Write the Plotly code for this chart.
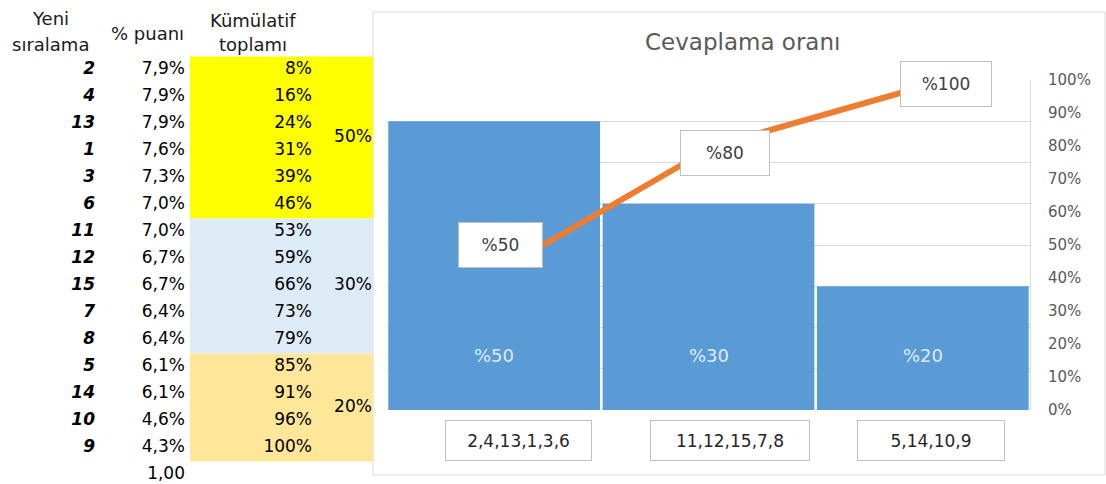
import plotly.graph_objects as go

# ---------------- data ----------------
yeni_siralama = [2, 4, 13, 1, 3, 6, 11, 12, 15, 7, 8, 5, 14, 10, 9]
puan_pct = [7.9, 7.9, 7.9, 7.6, 7.3, 7.0, 7.0, 6.7, 6.7, 6.4, 6.4, 6.1, 6.1, 4.6, 4.3]
kumulatif_pct = [8, 16, 24, 31, 39, 46, 53, 59, 66, 73, 79, 85, 91, 96, 100]
toplam_label = "1,00"
header_col1 = ["Yeni", "sıralama"]
header_col2 = "% puanı"
header_col3 = ["Kümülatif", "toplamı"]

group_sizes = [6, 5, 4]
group_shares = [50, 30, 20]

bar_values = [7, 5, 3]                 # primary (hidden) axis, 0..8
line_x = [0.243, 0.509, 0.869]         # line points on a hidden secondary x axis (0..1)
line_values = [0.50, 0.80, 1.00]       # secondary y axis
chart_title = "Cevaplama oranı"

# ---------------- styles ----------------
W, H = 1106, 484
FONT = "DejaVu Sans"
group_colors = ["#FFFF00", "#DDEBF7", "#FFE699"]
BAR_COLOR = "#5B9BD5"
LINE_COLOR = "#ED7D31"
GRID = "#D9D9D9"

def px_x(p):
    return p / W

def px_y(p):
    return 1 - p / H

# derived
categories = []
starts = []
s = 0
for n in group_sizes:
    starts.append(s)
    categories.append(",".join(str(v) for v in yeni_siralama[s:s + n]))
    s += n
group_centers = [st + (n - 1) / 2 for st, n in zip(starts, group_sizes)]
rows = list(range(len(yeni_siralama)))

fig = go.Figure()

# ---------------- table (left) ----------------
ROW0, ROWH = 70, 27  # pixel of row 0 and row height
tbl_y_range = [(H - ROW0) / ROWH, (0 - ROW0) / ROWH]

fig.add_trace(go.Bar(
    orientation="h", y=group_centers, x=[183] * len(group_sizes), base=190,
    width=group_sizes, marker=dict(color=group_colors, line=dict(width=0)),
    xaxis="x3", yaxis="y3", hoverinfo="skip", showlegend=False))

tfont = dict(family=FONT, size=17, color="#000")
fig.add_trace(go.Scatter(
    x=[95] * len(rows), y=rows, mode="text",
    text=[f"<b><i>{v}</i></b>" for v in yeni_siralama],
    textposition="middle left", textfont=tfont,
    xaxis="x3", yaxis="y3", showlegend=False, hoverinfo="skip"))
fig.add_trace(go.Scatter(
    x=[185] * (len(rows) + 1), y=rows + [len(rows)], mode="text",
    text=[f"{v:.1f}%".replace(".", ",") for v in puan_pct] + [toplam_label],
    textposition="middle left", textfont=tfont,
    xaxis="x3", yaxis="y3", showlegend=False, hoverinfo="skip"))
fig.add_trace(go.Scatter(
    x=[312] * len(rows), y=rows, mode="text",
    text=[f"{v}%" for v in kumulatif_pct],
    textposition="middle left", textfont=tfont,
    xaxis="x3", yaxis="y3", showlegend=False, hoverinfo="skip"))
fig.add_trace(go.Scatter(
    x=[353] * len(group_sizes), y=group_centers, mode="text",
    text=[f"{v}%" for v in group_shares],
    textposition="middle center", textfont=tfont,
    xaxis="x3", yaxis="y3", showlegend=False, hoverinfo="skip"))

annotations = []
hdr_font = dict(family=FONT, size=18, color="#1a1a1a")
for txt, yrow in zip(header_col1, [-1.92, -0.95]):
    annotations.append(dict(x=50, y=yrow, xref="x3", yref="y3", text=txt,
                            xanchor="center", yanchor="middle",
                            showarrow=False, font=hdr_font))
for txt, yrow in zip(header_col3, [-1.85, -0.95]):
    annotations.append(dict(x=253, y=yrow, xref="x3", yref="y3", text=txt,
                            xanchor="center", yanchor="middle",
                            showarrow=False, font=hdr_font))
annotations.append(dict(x=147, y=-1.37, xref="x3", yref="y3", text=header_col2,
                        xanchor="center", yanchor="middle",
                        showarrow=False, font=hdr_font))

# ---------------- chart (right) ----------------
fig.add_trace(go.Bar(
    x=categories, y=bar_values, width=0.988, marker=dict(color=BAR_COLOR, line=dict(width=0)),
    xaxis="x", yaxis="y", showlegend=False, hoverinfo="skip"))
fig.add_trace(go.Scatter(
    x=line_x, y=line_values, mode="lines",
    line=dict(color=LINE_COLOR, width=6), xaxis="x2", yaxis="y2",
    showlegend=False, hoverinfo="skip"))

# inside-bar labels
for c, sh in zip(categories, group_shares):
    annotations.append(dict(x=c, y=0, xref="x", yref="y", yshift=55, text=f"%{sh}",
                            xanchor="center", yanchor="middle",
                            showarrow=False, font=dict(family=FONT, size=18, color="#DDEBF7")))

# line data labels (boxes): first one to the left of its point, others around it
lbl_anchor = ["right", "center", "center"]
lbl_shift = [(0, 0), (11, -7), (0, -4)]
lbl_w = [83, 88, 90]
for xv, v, anc, (dx, dy), w in zip(line_x, line_values, lbl_anchor, lbl_shift, lbl_w):
    annotations.append(dict(x=xv, y=v, xref="x2", yref="y2", xshift=dx, yshift=dy,
                            xanchor=anc, yanchor="middle",
                            text=f"%{round(v * 100)}", showarrow=False, width=w, height=44,
                            bgcolor="white", bordercolor="#BFBFBF", borderwidth=1, borderpad=0,
                            font=dict(family=FONT, size=17, color="#404040")))

# category label boxes
cat_shift = [24, 21, 8]
cat_w = [145, 158, 146]
for c, dx, w in zip(categories, cat_shift, cat_w):
    annotations.append(dict(x=c, y=px_y(440), xref="x", yref="paper", xshift=dx,
                            xanchor="center", yanchor="middle",
                            text=c, showarrow=False, width=w, height=39,
                            bgcolor="white", bordercolor="#BFBFBF", borderwidth=1, borderpad=0,
                            font=dict(family=FONT, size=17, color="#262626")))

# title
annotations.append(dict(x=px_x(742), y=px_y(42), xref="paper", yref="paper",
                        xanchor="center", yanchor="middle",
                        text=chart_title, showarrow=False,
                        font=dict(family=FONT, size=23, color="#595959")))

shapes = [dict(type="rect", xref="paper", yref="paper",
               x0=px_x(373), x1=px_x(1105), y0=px_y(475), y1=px_y(12),
               line=dict(color=GRID, width=1), layer="below")]

fig.update_layout(
    template="none",
    width=W, height=H, margin=dict(l=0, r=0, t=0, b=0, pad=0, autoexpand=False),
    paper_bgcolor="white", plot_bgcolor="rgba(0,0,0,0)",
    showlegend=False, annotations=annotations, shapes=shapes,
    xaxis=dict(domain=[px_x(387), px_x(1030)], type="category", range=[-0.5, 2.5],
               showticklabels=False, showgrid=False, zeroline=False, showline=False,
               ticks="", automargin=False),
    xaxis2=dict(overlaying="x", anchor="y2", range=[0, 1], visible=False, automargin=False),
    yaxis=dict(domain=[px_y(410), px_y(80)], range=[0, 8], dtick=1,
               gridcolor=GRID, gridwidth=1, showticklabels=False, zeroline=False,
               showline=False, ticks="", automargin=False),
    yaxis2=dict(overlaying="y", side="right", anchor="x", range=[0, 1], dtick=0.1,
                tickformat=".0%", showgrid=False, zeroline=False,
                showline=True, linecolor=GRID, ticks="", ticklabelstandoff=14,
                automargin=False,
                tickfont=dict(family=FONT, size=15, color="#595959")),
    xaxis3=dict(domain=[0, px_x(373)], range=[0, 373], visible=False, fixedrange=True,
                automargin=False),
    yaxis3=dict(domain=[0, 1], range=tbl_y_range, visible=False, anchor="x3",
                automargin=False),
)

fig.write_html("out.html", config={"displayModeBar": False},
               post_script="document.body.style.margin='0px';")
